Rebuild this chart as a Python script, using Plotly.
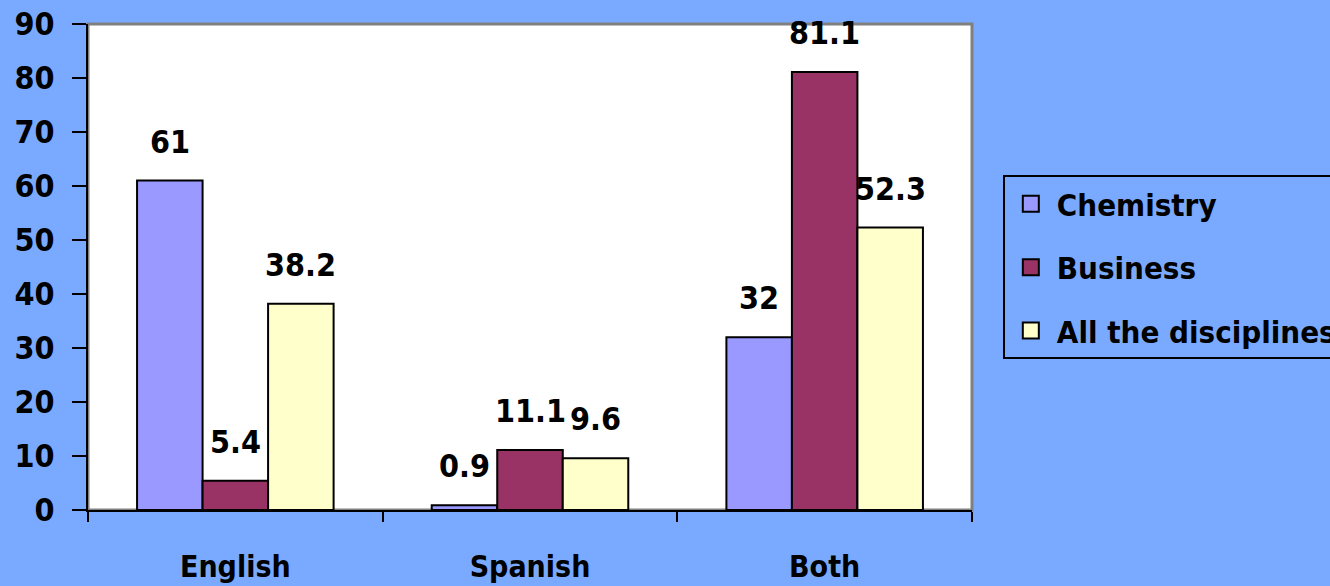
import plotly.graph_objects as go

categories = ["English", "Spanish", "Both"]
series_names = ["Chemistry", "Business", "All the disciplines"]
chemistry = [61, 0.9, 32]
business = [5.4, 11.1, 81.1]
all_disc = [38.2, 9.6, 52.3]
y_ticks = [0, 10, 20, 30, 40, 50, 60, 70, 80, 90]

colors = ["#9999FF", "#993366", "#FFFFCC"]
BG = "#7AAAFF"
FONT = "DejaVu Sans Condensed"

fig = go.Figure()
values = [chemistry, business, all_disc]
for i, (name, vals, col) in enumerate(zip(series_names, values, colors)):
    fig.add_trace(go.Bar(
        x=categories, y=vals, name=name, legendgroup=name, showlegend=False,
        marker=dict(color=col, line=dict(color="black", width=2)),
    ))
    # legend-only entry with a larger square swatch
    fig.add_trace(go.Scatter(
        x=[None], y=[None], mode="markers", name=name, legendgroup=name,
        marker=dict(symbol="square", size=16, color=col, line=dict(color="black", width=2)),
    ))

bar_px = 65.5
for i, vals in enumerate(values):
    for j, v in enumerate(vals):
        fig.add_annotation(
            x=categories[j], y=v, text=f"{v:g}", showarrow=False,
            xshift=(i - 1) * bar_px, yshift=39, yanchor="middle",
            font=dict(family=FONT, size=32, color="black", weight="bold"),
        )

fig.add_shape(type="rect", xref="paper", yref="paper", x0=0, y0=0, x1=1, y1=1,
              line=dict(color="#808080", width=3), layer="below")

fig.update_layout(
    width=1330, height=586,
    paper_bgcolor=BG, plot_bgcolor="white",
    margin=dict(l=88, r=358, t=24, b=76, autoexpand=False),
    barmode="group", bargap=0.333, bargroupgap=0,
    font=dict(family=FONT, size=30, color="black", weight="bold"),
    showlegend=True,
    legend=dict(
        x=0.754, y=0.701, xref="container", yref="container",
        xanchor="left", yanchor="top",
        bgcolor=BG, bordercolor="black", borderwidth=2,
        font=dict(family=FONT, size=31, color="black", weight="bold"),
        tracegroupgap=20, traceorder="grouped", itemsizing="trace", itemwidth=42,
    ),
    xaxis=dict(
        type="category", showline=True, linecolor="black", linewidth=2, automargin=False,
        ticks="outside", tickson="boundaries", ticklen=10, tickwidth=2, tickcolor="black",
        ticklabelstandoff=29, showgrid=False,
        tickfont=dict(family=FONT, size=30, color="black", weight="bold"),
    ),
    yaxis=dict(
        range=[0, 90], tickvals=y_ticks, showline=True, linecolor="black", linewidth=2,
        automargin=False,
        ticks="outside", ticklen=14, tickwidth=2, tickcolor="black",
        showgrid=False, zeroline=False, ticklabelstandoff=11,
        tickfont=dict(family=FONT, size=32, color="black", weight="bold"),
    ),
)

fig.write_html("out.html", config={"displayModeBar": False},
               post_script="document.body.style.margin='0';")
